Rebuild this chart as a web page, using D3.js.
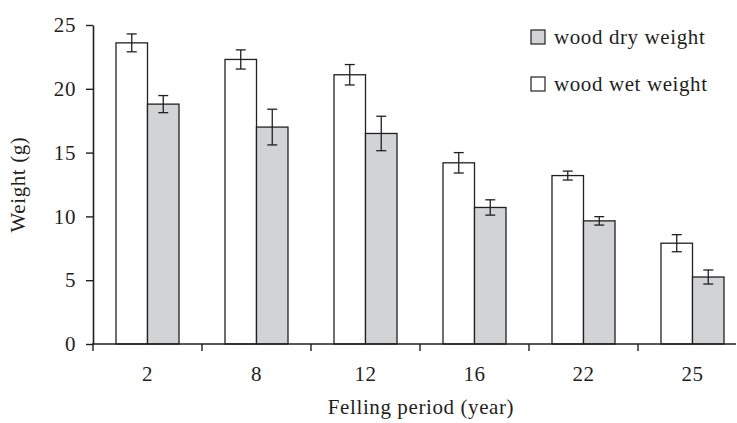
<!DOCTYPE html>
<html>
<head>
<meta charset="utf-8">
<script src="https://cdn.jsdelivr.net/npm/d3@7"></script>
<style>
  body { margin: 0; background: #fff; }
  text { font-family: "Liberation Serif", "Times New Roman", serif; fill: #231f20; letter-spacing: 0.6px; }
</style>
</head>
<body>
<svg width="737" height="423"></svg>
<script>
const width = 737;
const height = 423;

// data
const periods = ['2', '8', '12', '16', '22', '25'];
const wetWeight = [23.6, 22.3, 21.1, 14.2, 13.2, 7.9];
const wetError = [0.7, 0.75, 0.8, 0.8, 0.35, 0.67];
const dryWeight = [18.8, 17.0, 16.5, 10.7, 9.65, 5.25];
const dryError = [0.67, 1.4, 1.35, 0.6, 0.33, 0.55];
const yTicks = [0, 5, 10, 15, 20, 25];

const ink = '#231f20';
const grey = '#d1d3d4';
const fontSize = 21;

const plotLeft = 93, plotRight = 747, plotTop = 25, plotBottom = 344;

const x = d3.scaleBand()
    .domain(periods)
    .range([plotLeft, plotRight])
    .padding(0);

const sub = d3.scaleBand()
    .domain(['wet', 'dry'])
    .range([0, x.bandwidth()])
    .paddingInner(0)
    .paddingOuter(0.73);

const y = d3.scaleLinear()
    .domain([0, 25])
    .range([plotBottom, plotTop]);

const svg = d3.select('svg');

const rows = periods.map((p, i) => ({
    period: p,
    wet: wetWeight[i], wetErr: wetError[i],
    dry: dryWeight[i], dryErr: dryError[i]
}));

const groups = svg.selectAll('g.group')
    .data(rows)
    .join('g')
    .attr('class', 'group')
    .attr('transform', d => `translate(${x(d.period)},0)`);

['wet', 'dry'].forEach(key => {
    groups.append('rect')
        .attr('x', sub(key))
        .attr('y', d => y(d[key]))
        .attr('width', sub.bandwidth())
        .attr('height', d => y(0) - y(d[key]))
        .attr('fill', key === 'wet' ? '#fff' : grey)
        .attr('stroke', ink)
        .attr('stroke-width', 1.3);

    const cx = sub(key) + sub.bandwidth() / 2;
    const err = groups.append('g').attr('stroke', ink).attr('stroke-width', 1.3);
    err.append('line')
        .attr('x1', cx).attr('x2', cx)
        .attr('y1', d => y(d[key] + d[key + 'Err']))
        .attr('y2', d => y(d[key] - d[key + 'Err']));
    err.append('line')
        .attr('x1', cx - 5).attr('x2', cx + 5)
        .attr('y1', d => y(d[key] + d[key + 'Err']))
        .attr('y2', d => y(d[key] + d[key + 'Err']));
    err.append('line')
        .attr('x1', cx - 5).attr('x2', cx + 5)
        .attr('y1', d => y(d[key] - d[key + 'Err']))
        .attr('y2', d => y(d[key] - d[key + 'Err']));
});

// y axis
const yAxis = svg.append('g')
    .attr('transform', `translate(${plotLeft},0)`)
    .call(d3.axisLeft(y).tickValues(yTicks).tickSize(7).tickSizeOuter(0).tickPadding(10));
yAxis.select('.domain').attr('stroke', ink).attr('stroke-width', 1.6);
yAxis.selectAll('.tick line').attr('stroke', ink).attr('stroke-width', 1.4);
yAxis.selectAll('.tick text')
    .attr('font-size', fontSize)
    .attr('font-family', null)
    .attr('fill', ink);

// x axis: labels at band centres, ticks at band edges
const xAxis = svg.append('g')
    .attr('transform', `translate(0,${plotBottom})`)
    .call(d3.axisBottom(x).tickSize(0).tickPadding(22));
xAxis.select('.domain').remove();
xAxis.selectAll('.tick text')
    .attr('font-size', fontSize)
    .attr('font-family', null)
    .attr('fill', ink);

svg.append('line')
    .attr('x1', plotLeft - 1).attr('x2', 736)
    .attr('y1', plotBottom).attr('y2', plotBottom)
    .attr('stroke', ink).attr('stroke-width', 1.6);

svg.selectAll('line.xtick')
    .data(periods)
    .join('line')
    .attr('class', 'xtick')
    .attr('x1', d => x(d)).attr('x2', d => x(d))
    .attr('y1', plotBottom).attr('y2', plotBottom + 7)
    .attr('stroke', ink).attr('stroke-width', 1.4);

// axis titles
svg.append('text')
    .attr('x', 421).attr('y', 414)
    .attr('text-anchor', 'middle')
    .attr('font-size', fontSize)
    .text('Felling period (year)');

svg.append('text')
    .attr('transform', `translate(25,${(plotTop + plotBottom) / 2}) rotate(-90)`)
    .attr('text-anchor', 'middle')
    .attr('font-size', fontSize)
    .text('Weight (g)');

// legend
const legend = [
    { label: 'wood dry weight', fill: grey, y: 30 },
    { label: 'wood wet weight', fill: '#fff', y: 77 }
];
const lg = svg.selectAll('g.legend')
    .data(legend)
    .join('g')
    .attr('class', 'legend')
    .attr('transform', d => `translate(531,${d.y})`);
lg.append('rect')
    .attr('width', 14).attr('height', 14)
    .attr('fill', d => d.fill)
    .attr('stroke', ink).attr('stroke-width', 1.2);
lg.append('text')
    .attr('x', 23).attr('y', 14)
    .attr('font-size', fontSize)
    .text(d => d.label);
</script>
</body>
</html>
